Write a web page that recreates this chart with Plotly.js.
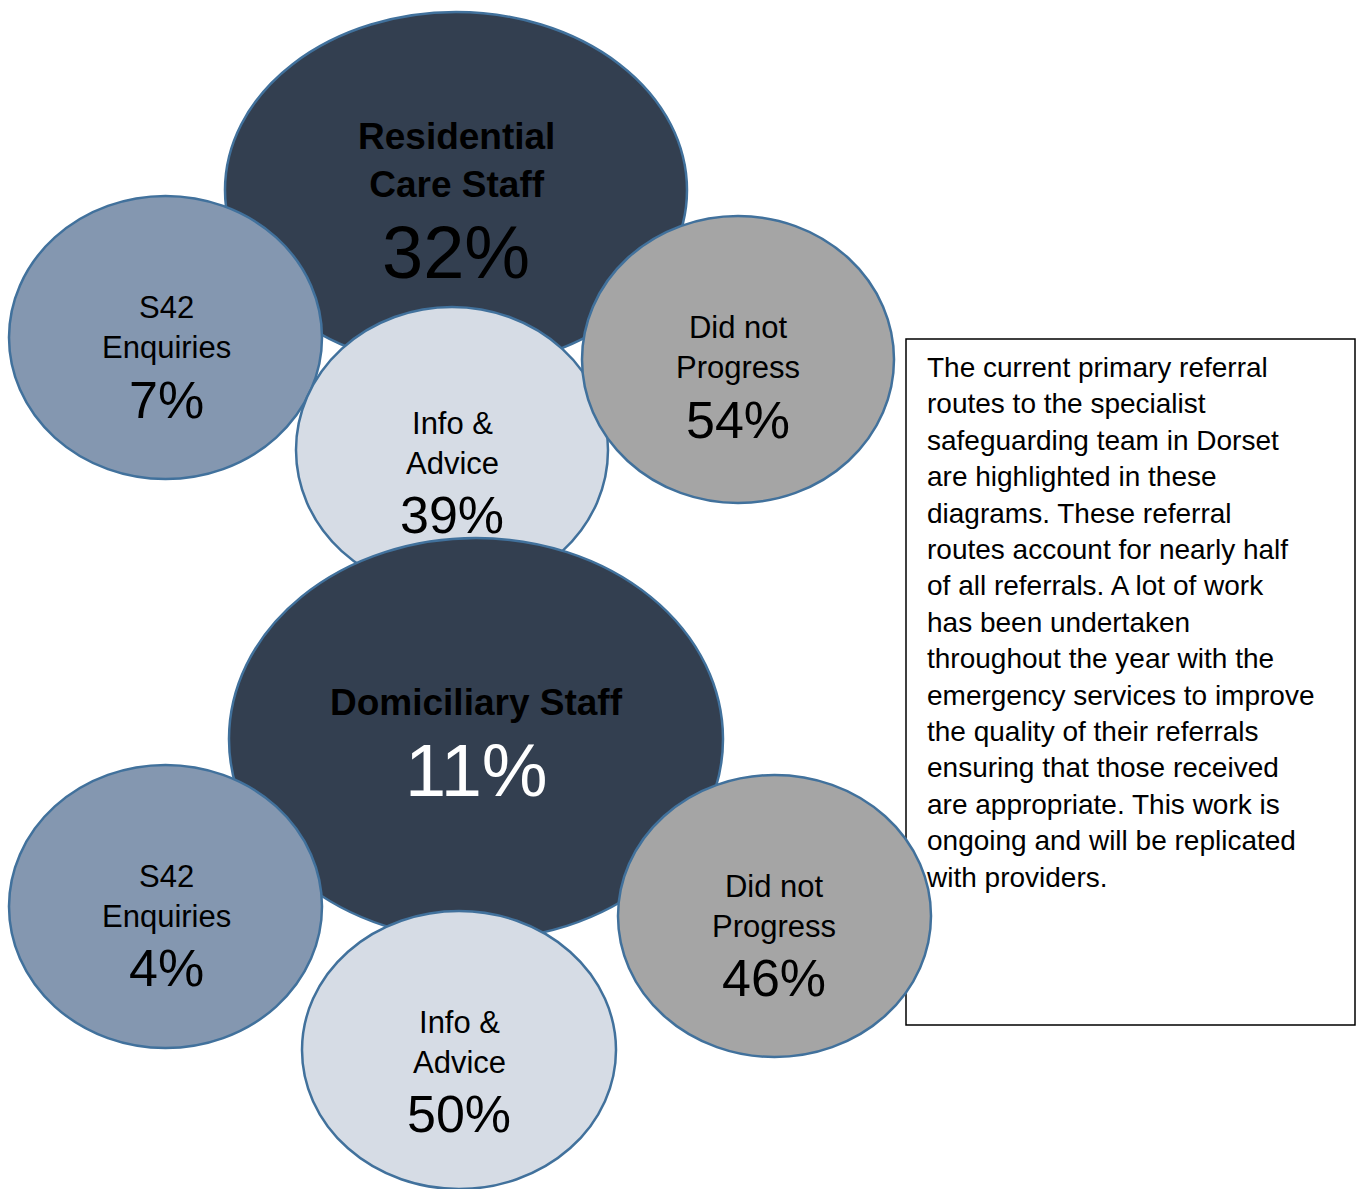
<!DOCTYPE html>
<html>
<head>
<meta charset="utf-8">
<script src="https://cdn.plot.ly/plotly-3.0.1.min.js"></script>
<style>
  html, body { margin: 0; padding: 0; background: #ffffff; }
  #chart { width: 1362px; height: 1189px; }
</style>
</head>
<body>
<div id="chart"></div>
<script>
// ---------- DATA ----------
const groups = ['Residential<br>Care Staff', 'Domiciliary Staff'];
const groupShares = [32, 11];
const outcomes = ['S42<br>Enquiries', 'Info &<br>Advice', 'Did not<br>Progress'];
const residentialOutcomes = [7, 39, 54];
const domiciliaryOutcomes = [4, 50, 46];
const noteLines = [
  'The current primary referral',
  'routes to the specialist',
  'safeguarding team in Dorset',
  'are highlighted in these',
  'diagrams. These referral',
  'routes account for nearly half',
  'of all referrals. A lot of work',
  'has been undertaken',
  'throughout the year with the',
  'emergency services to improve',
  'the quality of their referrals',
  'ensuring that those received',
  'are appropriate. This work is',
  'ongoing and will be replicated',
  'with providers.'
];

// ---------- LAYOUT (positions / styles, in pixel-like axis units) ----------
const outline = '#41719c';
const darkFill = '#333f50';
const outcomeFills = ['#8497b0', '#d6dce5', '#a5a5a5'];
const font = '"Liberation Sans", Arial, sans-serif';

const groupGeom = [
  { cx: 456, cy: 190, rx: 231, ry: 178, titleY: 160, pctY: 252, tx: 456, pctColor: '#000000' },
  { cx: 476, cy: 739, rx: 247, ry: 201, titleY: 702, pctY: 770, tx: 476, pctColor: '#ffffff' }
];
const outcomeGeom = [
  [
    { cx: 165.5, cy: 337.5, rx: 156.5, ry: 141.5, labelY: 327, pctY: 400, tx: 166 },
    { cx: 452, cy: 450, rx: 156, ry: 143, labelY: 443, pctY: 515, tx: 452 },
    { cx: 738, cy: 359.5, rx: 156, ry: 143.5, labelY: 347, pctY: 420, tx: 738 }
  ],
  [
    { cx: 165.5, cy: 906.5, rx: 156.5, ry: 141.5, labelY: 896.5, pctY: 968, tx: 166 },
    { cx: 459, cy: 1050, rx: 157, ry: 139, labelY: 1042, pctY: 1114, tx: 459 },
    { cx: 774.5, cy: 916, rx: 156.5, ry: 141, labelY: 906, pctY: 978, tx: 774 }
  ]
];
const noteBox = { x0: 906, x1: 1355, y0: 339, y1: 1025, textX: 924, textY: 350 };

// ---------- BUILD ----------
const shapes = [];
const annotations = [];

shapes.push({
  type: 'rect', xref: 'x', yref: 'y',
  x0: noteBox.x0, x1: noteBox.x1, y0: noteBox.y0, y1: noteBox.y1,
  fillcolor: '#ffffff', line: { color: '#000000', width: 1.5 }, layer: 'above'
});

function ellipse(g, fill) {
  shapes.push({
    type: 'circle', xref: 'x', yref: 'y',
    x0: g.cx - g.rx, x1: g.cx + g.rx, y0: g.cy - g.ry, y1: g.cy + g.ry,
    fillcolor: fill, line: { color: outline, width: 2.5 }, layer: 'above'
  });
}

const outcomeValues = [residentialOutcomes, domiciliaryOutcomes];
const order = [0, 1, 2]; // S42, Info, Did not

groups.forEach((gName, gi) => {
  const g = groupGeom[gi];
  ellipse(g, darkFill);
  annotations.push({
    x: g.tx, y: g.titleY, xref: 'x', yref: 'y', text: '<b>' + gName + '</b>',
    showarrow: false, xanchor: 'center', yanchor: 'middle', align: 'center',
    font: { family: font, size: 37, color: '#000000' }
  });
  annotations.push({
    x: g.tx, y: g.pctY, xref: 'x', yref: 'y', text: groupShares[gi] + '%',
    showarrow: false, xanchor: 'center', yanchor: 'middle',
    font: { family: font, size: 74, color: g.pctColor }
  });
  order.forEach(oi => {
    const o = outcomeGeom[gi][oi];
    ellipse(o, outcomeFills[oi]);
    annotations.push({
      x: o.tx, y: o.labelY, xref: 'x', yref: 'y', text: outcomes[oi],
      showarrow: false, xanchor: 'center', yanchor: 'middle', align: 'center',
      font: { family: font, size: 31, color: '#000000' }
    });
    annotations.push({
      x: o.tx, y: o.pctY, xref: 'x', yref: 'y', text: outcomeValues[gi][oi] + '%',
      showarrow: false, xanchor: 'center', yanchor: 'middle',
      font: { family: font, size: 52, color: '#000000' }
    });
  });
});

annotations.push({
  x: noteBox.textX, y: noteBox.textY, xref: 'x', yref: 'y',
  text: noteLines.join('<br>'), showarrow: false,
  xanchor: 'left', yanchor: 'top', align: 'left',
  font: { family: font, size: 28, color: '#000000' }
});

const layout = {
  width: 1362, height: 1189,
  margin: { l: 0, r: 0, t: 0, b: 0, pad: 0 },
  paper_bgcolor: '#ffffff', plot_bgcolor: '#ffffff',
  showlegend: false,
  xaxis: { range: [0, 1362], autorange: false, visible: false, fixedrange: true },
  yaxis: { range: [1189, 0], autorange: false, visible: false, fixedrange: true },
  shapes: shapes,
  annotations: annotations
};

Plotly.newPlot('chart', [{ x: [], y: [], type: 'scatter', hoverinfo: 'skip' }], layout, { staticPlot: true, displayModeBar: false });
</script>
</body>
</html>
